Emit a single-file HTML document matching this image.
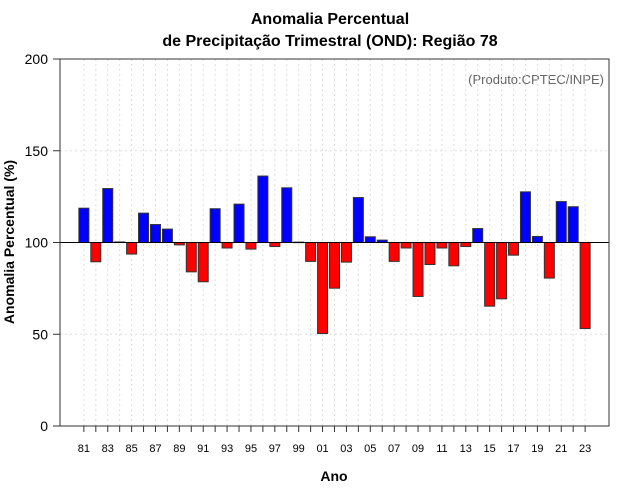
<!DOCTYPE html>
<html><head><meta charset="utf-8"><style>body{margin:0;background:#fff}svg{display:block;font-family:"Liberation Sans",sans-serif}</style></head>
<body>
<svg id="chart" width="640" height="500">
<text x="330" y="24" text-anchor="middle" font-size="16" font-weight="bold">Anomalia Percentual</text>
<text x="330" y="46" text-anchor="middle" font-size="16" font-weight="bold">de Precipitação Trimestral (OND): Região 78</text>
<text x="604" y="84" text-anchor="end" font-size="13" fill="#666">(Produto:CPTEC/INPE)</text>
<text x="334" y="481" text-anchor="middle" font-size="14" font-weight="bold">Ano</text>
<text transform="translate(14,242) rotate(-90)" text-anchor="middle" font-size="14" font-weight="bold">Anomalia Percentual (%)</text>
<g id="grid"></g><g id="bars"></g><g id="axes"></g>
</svg>
<script>
const years=[1981,1982,1983,1984,1985,1986,1987,1988,1989,1990,1991,1992,1993,1994,1995,1996,1997,1998,1999,2000,2001,2002,2003,2004,2005,2006,2007,2008,2009,2010,2011,2012,2013,2014,2015,2016,2017,2018,2019,2020,2021,2022,2023];
const values=[118.7,89.5,129.4,100.3,93.7,116,109.8,107.3,98.7,84,78.6,118.4,97,120.9,96.4,136.2,97.8,129.8,100.2,89.7,50.4,75.1,89.3,124.5,103.1,101.3,89.7,97,70.6,88,97,87.3,97.8,107.6,65.3,69.3,93.1,127.6,103.3,80.6,122.3,119.5,53.1];
const yTicks=[0,50,100,150,200];
const L=60,R=609,T=59,B=426,NS='http://www.w3.org/2000/svg';
const xs=y=>L+(y-1979)*(R-L)/46;
const ys=v=>B-v*(B-T)/200;
function mk(parent,tag,attrs){const e=document.createElementNS(NS,tag);for(const k in attrs)e.setAttribute(k,attrs[k]);document.getElementById(parent).appendChild(e);return e;}
years.forEach(y=>{const g=mk('grid','line',{x1:xs(y),x2:xs(y),y1:T,y2:B,stroke:'#ddd','stroke-dasharray':'2,3'});

});
[50,100,150].forEach(v=>{const g=mk('grid','line',{x1:L,x2:R,y1:ys(v),y2:ys(v),stroke:'#ddd','stroke-dasharray':'2,3'});

});
years.forEach((y,i)=>{const v=values[i];const top=Math.min(ys(v),ys(100)),h=Math.abs(ys(v)-ys(100));
const b=mk('bars','rect',{x:xs(y)-5,y:top,width:10,height:Math.max(h,0.5),fill:v>=100?'#0000ff':'#ff0000',stroke:'#333','stroke-width':1});

});
const ref=mk('axes','line',{x1:L,x2:R,y1:ys(100),y2:ys(100),stroke:'#000','stroke-width':1});


const box=mk('axes','rect',{x:L,y:T,width:R-L,height:B-T,fill:'none',stroke:'#333','stroke-width':1});


yTicks.forEach(v=>{const t=mk('axes','line',{x1:L-7,x2:L,y1:ys(v),y2:ys(v),stroke:'#333'});


const l=mk('axes','text',{x:L-12,y:ys(v)+5,'text-anchor':'end','font-size':14});l.textContent=v;

});
years.forEach((y,i)=>{const t=mk('axes','line',{x1:xs(y),x2:xs(y),y1:B,y2:B+6,stroke:'#333'});


if(i%2===0){const l=mk('axes','text',{x:xs(y),y:452,'text-anchor':'middle','font-size':11});l.textContent=String(y).slice(2);

}});
</script>
</body></html>
